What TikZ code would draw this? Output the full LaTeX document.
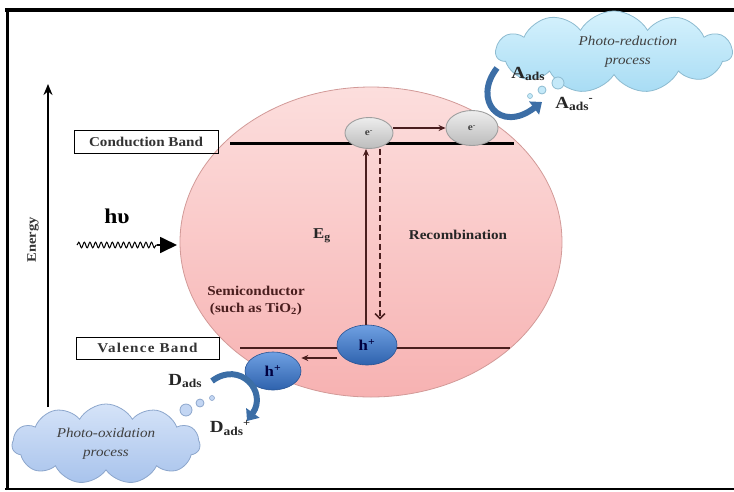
\documentclass[tikz,border=0pt]{standalone}
\usepackage{fontspec}
\setmainfont[FakeStretch=1.12]{Liberation Serif}
\usetikzlibrary{arrows.meta,positioning,shapes.geometric,shapes.symbols,decorations.pathmorphing}
\definecolor{cpinkt}{HTML}{FCDEDD}
\definecolor{cpinkb}{HTML}{F7B2B2}
\definecolor{cpinkd}{HTML}{D29A98}
\definecolor{cbrown}{HTML}{4A1E1E}
\definecolor{cholet}{HTML}{6FA0E2}
\definecolor{choleb}{HTML}{2E62AD}
\definecolor{cgrayt}{HTML}{EDEDED}
\definecolor{cgrayb}{HTML}{BCBCBC}
\definecolor{cbarrow}{HTML}{3C6EA6}
\definecolor{credt}{HTML}{D6F2FD}
\definecolor{credb}{HTML}{A8DCF4}
\definecolor{credd}{HTML}{8DBBD0}
\definecolor{coxt}{HTML}{D5E3F8}
\definecolor{coxb}{HTML}{A8C3EC}
\definecolor{coxd}{HTML}{8CA6CC}
\newcommand{\adsub}{\raisebox{-0.35ex}{\fontsize{12}{12}\selectfont ads}}
\newcommand{\chg}[1]{\raisebox{0.8ex}{\fontsize{11}{11}\selectfont #1}}

\begin{document}
\begin{tikzpicture}[x=1pt,y=-1pt,>={Stealth[length=7pt,width=6pt]},
  lbl/.style={font=\fontsize{13.5}{17}\selectfont\bfseries,text=black!85},
  bandbox/.style={draw,line width=0.8pt,inner sep=0pt,minimum height=23pt,
    minimum width=144pt,font=\fontsize{13.5}{14}\selectfont\bfseries,text=black!80},
  elec/.style={ellipse,inner sep=0pt,top color=cgrayt,bottom color=cgrayb,
    draw=gray!75,line width=0.9pt,font=\fontsize{10}{10}\selectfont\bfseries,text=black!75},
  hole/.style={ellipse,inner sep=0pt,top color=cholet,bottom color=choleb,
    draw=choleb!85!black,line width=0.6pt,font=\fontsize{15}{15}\selectfont\bfseries,text=black!75!blue},
  species/.style={font=\fontsize{17}{18}\selectfont\bfseries,text=black!85},
  puff/.style={cloud,cloud puffs=11,cloud puff arc=120,cloud ignores aspect,align=center,
    line width=0.8pt,font=\fontsize{13.5}{19}\selectfont\itshape,text=black!75},
  barrow/.style={cbarrow,line width=6pt,-{Triangle[length=10pt,width=16pt]}},
  carrow/.style={cbrown,line width=1.6pt,->},
]
\useasboundingbox (0,0) rectangle (734,491);

% frame
\draw[line width=3pt] (7,490) -- (7,9);
\draw[line width=4pt] (5,10) -- (734,10);
\draw[line width=1.5pt] (5,489) -- (734,489);

% semiconductor particle
\node[ellipse,minimum width=382pt,minimum height=310pt,top color=cpinkt,bottom color=cpinkb,
  draw=cpinkd,line width=0.8pt] (semi) at (371,242) {};

% bands
\coordinate (cb-l) at (230,143);
\coordinate (cb-r) at (514,143);
\coordinate (vb-l) at (240,348);
\coordinate (vb-r) at (510,348);
\draw[line width=3pt] (cb-l) -- (cb-r);
\draw[cbrown,line width=2.5pt] (vb-l) -- (vb-r);
\node[bandbox] (cbbox) at (146,142) {Conduction Band};
\node[bandbox,minimum height=22pt,minimum width=143pt] (vbbox) at (147.5,348)
  {\addfontfeature{LetterSpace=9}Valence Band};

% energy axis
\coordinate (en-b) at (48,407);
\coordinate (en-t) at (48,84);
\draw[line width=1.8pt,-{Stealth[length=11pt,width=9pt]}] (en-b) -- (en-t);
\node[font=\fontsize{13}{14}\selectfont\bfseries,rotate=90,text=black!80] (energy) at (33,240) {Energy};

% incoming photon
\node[font=\fontsize{21}{22}\selectfont\bfseries] (hv) at (117,216) {hυ};
\coordinate (hv-a) at (77,245);
\coordinate (hv-b) at (157,245);
\coordinate (hv-c) at (177,245);
\draw[decorate,decoration={snake,amplitude=2.8pt,segment length=5.6pt},line width=1pt] (hv-a) -- (hv-b);
\draw[line width=1.8pt,-{Triangle[length=17pt,width=16pt]}] (hv-b) -- (hv-c);

% labels inside the particle
\node[lbl,font=\fontsize{15}{17}\selectfont\bfseries] (eg) at (322,236) {E\textsubscript{g}};
\node[lbl] (recomb) at (458,235) {Recombination};
\node[lbl,align=center,text=cbrown] (semitxt) at (256,301) {Semiconductor\\(such as TiO\textsubscript{2})};

% carriers
\node[elec,minimum width=48pt,minimum height=31pt] (e1) at (369,133) {e\textsuperscript{-}};
\node[elec,minimum width=52pt,minimum height=35pt] (e2) at (472,128) {e\textsuperscript{-}};
\node[hole,minimum width=60pt,minimum height=40pt] (h1) at (367,345) {h\textsuperscript{+}};
\node[hole,minimum width=56pt,minimum height=38pt] (h2) at (273,371) {h\textsuperscript{+}};

% excitation, migration, recombination
\draw[carrow] (h1.north -| 366,0) -- (e1.south -| 366,0);
\draw[carrow,dashed,dash pattern=on 6pt off 3.5pt,-{Straight Barb[length=5pt,width=10pt]},shorten >=5pt]
  (e1.south -| 380,0) -- (h1.north -| 380,0);
\draw[carrow] (e1.east |- e2.west) -- (e2.west);
\draw[carrow] (h1.west |- 0,358) -- (h2.east |- 0,358);

% photo-reduction
\node[puff,top color=credt,bottom color=credb,draw=credd,minimum width=236pt,minimum height=68pt]
  (redcloud) at (614,52) {\hspace*{28pt}Photo-reduction\\\hspace*{28pt}process};
\draw[credd,fill=credt!60!credb,line width=0.8pt] (558,83) circle (6);
\draw[credd,fill=credt!60!credb,line width=0.8pt] (542,90) circle (4);
\draw[credd,fill=credt!60!credb,line width=0.6pt] (530,96) circle (2.5);
\node[species] (aads) at (528,74) {A\adsub};
\node[species] (aadsp) at (574,104) {A\adsub\chg{-}};
\coordinate (rd-s) at (497,68);
\coordinate (rd-e) at (542,102);
\draw[barrow] (rd-s) .. controls (472,100) and (500,134) .. (rd-e);

% photo-oxidation
\node[puff,top color=coxt,bottom color=coxb,draw=coxd,minimum width=188pt,minimum height=80pt]
  (oxcloud) at (106,444) {Photo-oxidation\\process};
\draw[coxd,fill=coxt!60!coxb,line width=0.8pt] (186,410) circle (6);
\draw[coxd,fill=coxt!60!coxb,line width=0.8pt] (200,403) circle (4);
\draw[coxd,fill=coxt!60!coxb,line width=0.6pt] (212,398) circle (2.5);
\node[species] (dads) at (185,381) {D\adsub};
\node[species] (dadsp) at (230,428) {D\adsub\chg{+}};
\coordinate (ox-s) at (212,381);
\coordinate (ox-e) at (247,421);
\draw[barrow] (ox-s) .. controls (240,360) and (268,392) .. (ox-e);
\end{tikzpicture}
\end{document}
